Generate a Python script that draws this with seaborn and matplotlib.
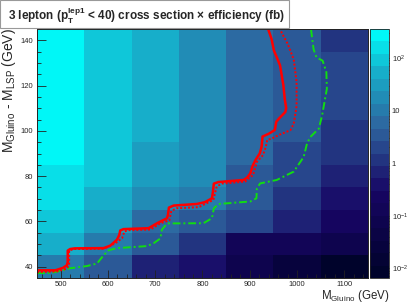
import numpy as np
import pandas as pd
import matplotlib
matplotlib.use("Agg")
import matplotlib.pyplot as plt
import seaborn as sns
from matplotlib.colors import LinearSegmentedColormap, LogNorm
from matplotlib.ticker import MultipleLocator, LogLocator, NullFormatter
from matplotlib.patches import Rectangle

# ─────────────────────────────────────────────
# DATA
# ─────────────────────────────────────────────
M_GLUINO = [500, 600, 700, 800, 900, 1000, 1100]
DELTA_M = [140, 130, 120, 110, 100, 90, 80, 70, 60, 50, 40]

# cross section x efficiency (fb), rows follow DELTA_M, columns follow M_GLUINO
XSEC_EFF = [
    [357, 92, 52, 17, 5.6, 3.3, 1.1],
    [340, 90, 52, 17, 5.6, 3.3, 2.0],
    [320, 88, 51, 17, 5.5, 3.3, 1.9],
    [300, 86, 50, 17, 5.5, 3.2, 1.8],
    [280, 84, 45, 16, 5.4, 3.0, 1.2],
    [250, 80, 33, 16, 5.3, 2.0, 1.0],
    [180, 75, 30, 15, 3.5, 1.9, 0.70],
    [150, 55, 17, 10, 3.2, 1.3, 0.38],
    [95, 32, 6.0, 4.0, 2.0, 0.65, 0.22],
    [55, 9.0, 3.4, 1.1, 0.13, 0.12, 0.07],
    [10, 3.2, 0.65, 0.38, 0.07, 0.025, 0.0065],
]

# red solid contour
RED_X = [450, 489, 505, 513, 515, 515, 520, 530, 591, 605, 619, 624, 626, 633,
         686, 704, 725, 727, 729, 739, 788, 805, 820, 822, 824, 834, 887, 895,
         901, 906, 912, 921, 925, 927, 940, 953, 956, 962, 975, 977, 974, 971,
         964, 958, 951, 946, 938]
RED_Y = [38.4, 38.4, 39.5, 40.6, 42.0, 47.1, 47.8, 48.1, 48.2, 49.3, 51.9, 54.0,
         56.0, 56.6, 57.0, 59.2, 61.4, 63.0, 66.1, 67.0, 67.7, 68.5, 70.2, 73.0,
         76.7, 77.4, 78.3, 79.5, 81.2, 84.5, 87.1, 90.0, 93.0, 97.5, 98.7, 100.4,
         104.0, 105.5, 108.3, 110.1, 114.0, 120.2, 128.9, 132.0, 135.5, 140.6, 145.5]

# red dotted contour
RED_DOT_X = [450, 492, 513, 518, 518, 527, 591, 616, 630, 635, 644, 690, 711,
             730, 734, 745, 792, 823, 830, 841, 890, 907, 915, 928, 934, 937,
             946, 964, 986, 993, 999, 999, 993, 980, 962]
RED_DOT_Y = [37.6, 37.9, 39.1, 40.6, 47.1, 47.8, 47.9, 50.4, 52.6, 55.6, 56.1,
             56.4, 59.2, 60.5, 64.6, 65.8, 66.3, 69.5, 75.4, 76.7, 77.6, 80.5,
             86.3, 89.3, 93.0, 96.0, 96.6, 98.4, 100.3, 103.2, 111.0, 121.5,
             131.5, 138.5, 145.5]

# green dash-dotted contour
GREEN_X = [450, 478, 492, 520, 556, 577, 591, 602, 619, 683, 697, 711, 714,
           725, 802, 820, 824, 834, 901, 914, 915, 922, 957, 993, 1014, 1021,
           1028, 1046, 1053, 1063, 1062, 1054, 1041, 1035, 1029]
GREEN_Y = [37.2, 37.2, 37.8, 39.3, 40.3, 41.4, 45.1, 47.3, 48.2, 49.1, 50.4,
           52.5, 56.3, 59.1, 59.2, 61.4, 65.8, 67.7, 68.8, 70.2, 74.6, 76.8,
           78.3, 82.0, 88.5, 94.4, 97.3, 101.0, 106.9, 118.6, 125.9, 131.0,
           132.5, 136.0, 145.5]

TITLE = ("3 lepton ($\\mathbf{p}_{\\mathbf{T}}^{\\mathbf{lep1}}$ < 40) "
         "cross section × efficiency (fb)")
XLABEL = "M$_{\\mathrm{Gluino}}$ (GeV)"
YLABEL = "M$_{\\mathrm{Gluino}}$ - M$_{\\mathrm{LSP}}$ (GeV)"
CBAR_TICKS = [0.01, 0.1, 1, 10, 100]
CBAR_LABELS = ["$10^{-2}$", "$10^{-1}$", "1", "10", "$10^{2}$"]

# ─────────────────────────────────────────────
# STYLE
# ─────────────────────────────────────────────
sns.set_style("ticks")
plt.rcParams["font.family"] = ["Liberation Sans", "DejaVu Sans"]
plt.rcParams["mathtext.fontset"] = "custom"
plt.rcParams["mathtext.rm"] = "Liberation Sans"
plt.rcParams["mathtext.it"] = "Liberation Sans:italic"
plt.rcParams["mathtext.bf"] = "Liberation Sans:bold"

# ROOT "deep sea" palette, 20 contour levels
stops = [0.00, 0.34, 0.61, 0.84, 1.00]
reds = [0.00, 0.09, 0.18, 0.09, 0.00]
greens = [0.01, 0.02, 0.39, 0.68, 0.97]
blues = [0.17, 0.39, 0.62, 0.79, 0.97]
cdict = {
    "red": [(s, v, v) for s, v in zip(stops, reds)],
    "green": [(s, v, v) for s, v in zip(stops, greens)],
    "blue": [(s, v, v) for s, v in zip(stops, blues)],
}
cmap = LinearSegmentedColormap("deepsea", cdict).resampled(20)

W, H = 407, 304
fig = plt.figure(figsize=(W / 100, H / 100), dpi=100)
fig.patch.set_facecolor("white")

left, right, top, bottom = 37, 368, 29, 278
rect = [left / W, 1 - bottom / H, (right - left) / W, (bottom - top) / H]
ax = fig.add_axes(rect)
cax = fig.add_axes([370 / W, 1 - bottom / H, 19 / W, (bottom - top) / H])

df = pd.DataFrame(XSEC_EFF, index=DELTA_M, columns=M_GLUINO)
norm = LogNorm(vmin=df.values.min(), vmax=df.values.max())
sns.heatmap(df, ax=ax, cbar_ax=cax, cmap=cmap, norm=norm,
            xticklabels=False, yticklabels=False)
ax.set_xlabel("")
ax.set_ylabel("")
ax.tick_params(left=False, bottom=False)

# colour bar
cbar = ax.collections[0].colorbar
cbar.outline.set_linewidth(0.6)
cbar.outline.set_edgecolor("#222222")
cbar.set_ticks(CBAR_TICKS, labels=CBAR_LABELS)
cax.yaxis.set_minor_locator(LogLocator(base=10, subs=np.arange(2, 10)))
cax.yaxis.set_minor_formatter(NullFormatter())
cax.yaxis.set_ticks_position("right")
cax.tick_params(which="both", direction="in", labelsize=5.5, pad=2,
                width=0.6, color="#222222")
cax.tick_params(which="major", length=7)
cax.tick_params(which="minor", length=3.5)

# overlay axes in data coordinates
ax2 = fig.add_axes(rect, facecolor="none")
ax2.set_xlim(450, 1150)
ax2.set_ylim(35, 145)
ax2.plot(GREEN_X, GREEN_Y, color="#11dd11", lw=1.4,
         linestyle=(0, (4, 1.5, 1, 1.5)))
ax2.plot(RED_DOT_X, RED_DOT_Y, color="red", lw=1.4, linestyle=(0, (1, 1)))
ax2.plot(RED_X, RED_Y, color="red", lw=1.8)

ax2.xaxis.set_major_locator(MultipleLocator(100))
ax2.xaxis.set_minor_locator(MultipleLocator(20))
ax2.yaxis.set_major_locator(MultipleLocator(20))
ax2.yaxis.set_minor_locator(MultipleLocator(5))
ax2.tick_params(which="both", direction="in", labelsize=5.5, width=0.6,
                color="#222222")
ax2.tick_params(axis="x", which="major", length=6, pad=2)
ax2.tick_params(axis="x", which="minor", length=3)
ax2.tick_params(axis="y", which="major", length=6.5, pad=3)
ax2.tick_params(axis="y", which="minor", length=3.2)
for sp in ax2.spines.values():
    sp.set_linewidth(0.7)
    sp.set_color("#222222")

# labels
fig.text(390 / W, 1 - 296 / H, XLABEL, ha="right", va="center", fontsize=8.3)
fig.text(9 / W, 1 - 28 / H, YLABEL, ha="center", va="top", rotation=90,
         fontsize=10)

# title box
fig.patches.append(Rectangle((0, 1 - 28 / H), 289 / W, 28 / H,
                             transform=fig.transFigure, facecolor="white",
                             edgecolor="#999999", lw=0.8, zorder=5))
fig.text(8 / W, 1 - 15.5 / H, TITLE, ha="left", va="center", fontsize=8.5,
         fontweight="bold", zorder=6)

fig.savefig("out.png", dpi=100)
